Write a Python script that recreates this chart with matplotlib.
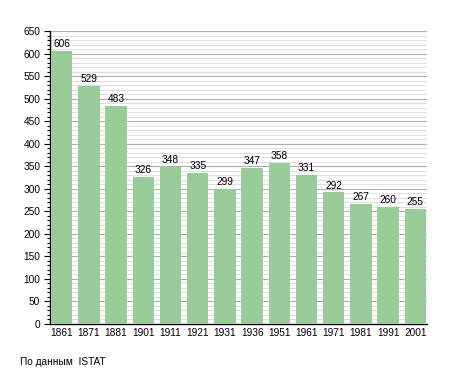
import matplotlib
matplotlib.use('Agg')
import matplotlib.pyplot as plt
from matplotlib.ticker import MultipleLocator

years = ['1861', '1871', '1881', '1901', '1911', '1921', '1931',
         '1936', '1951', '1961', '1971', '1981', '1991', '2001']
population = [606, 529, 483, 326, 348, 335, 299, 347, 358, 331, 292, 267, 260, 255]

plt.rcParams['font.family'] = ['Liberation Sans', 'DejaVu Sans']

fig = plt.figure(figsize=(4.55, 3.73), dpi=100)
ax = fig.add_axes([50 / 455, 49 / 373, 377 / 455, 293 / 373])

x = list(range(len(years)))
ax.bar(x, population, width=0.79, color='#99cc99', zorder=3)
for xi, v in zip(x, population):
    ax.text(xi, v + 4, str(v), ha='center', va='bottom', fontsize=7.3, zorder=4)

ax.set_xlim(-0.43, len(years) - 0.57)
ax.set_ylim(0, 650)
ax.yaxis.set_major_locator(MultipleLocator(50))
ax.yaxis.set_minor_locator(MultipleLocator(10))
ax.grid(which='major', axis='y', color='#b0b0b0', linewidth=0.8, zorder=1)
ax.grid(which='minor', axis='y', color='#e0e0e0', linewidth=0.8, zorder=0)
ax.set_xticks(x)
ax.set_xticklabels(years)
ax.tick_params(axis='x', length=0, pad=3, labelsize=7.3)
ax.tick_params(axis='y', which='major', length=4, width=0.8, pad=3, labelsize=7.3)
ax.tick_params(axis='y', which='minor', length=2, width=0.8)
ax.spines['top'].set_visible(False)
ax.spines['right'].set_visible(False)
ax.spines['left'].set_linewidth(1)
ax.spines['bottom'].set_linewidth(1)

fig.text(20 / 455, 1 - 362 / 373, 'По данным  ISTAT', fontsize=7.3, va='center')

fig.savefig('out.png', dpi=100)
